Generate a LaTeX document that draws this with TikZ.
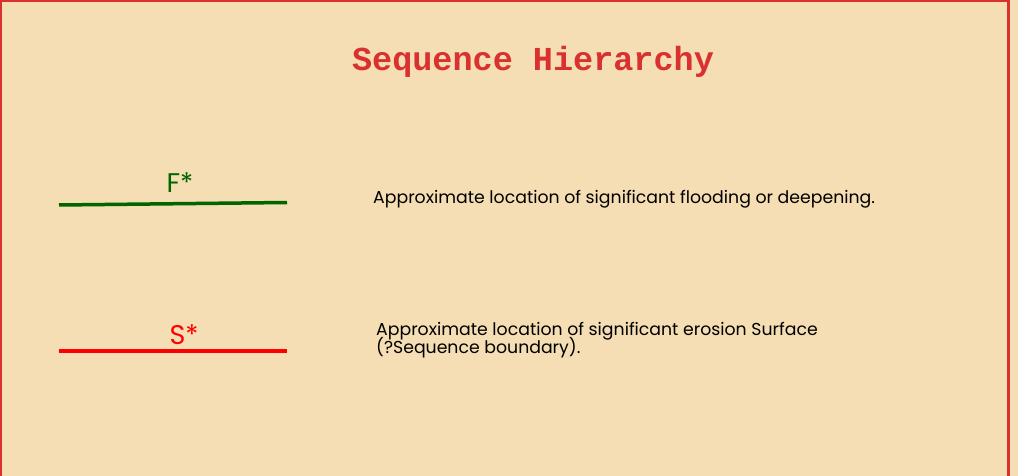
\documentclass[tikz,border=0pt]{standalone}
\usepackage{fontspec}
\usepackage{xcolor}
\newfontfamily\titlefont{Liberation Mono}
\newfontfamily\descfont{Poppins}
\definecolor{paper}{HTML}{F5DEB3}
\definecolor{frame}{HTML}{D93030}
\definecolor{floodgreen}{HTML}{006400}
\definecolor{erosred}{HTML}{FF0000}

\begin{document}
\begin{tikzpicture}[x=1pt, y=-1pt,
    desc/.style = {anchor=base west, inner sep=0pt, font=\descfont\fontsize{17.3}{15}\selectfont, align=left},
    tag/.style = {anchor=base, inner sep=0pt, font=\descfont\fontsize{27}{27}\selectfont},
    surface/.style = {line width=3.5pt}]
    \fill[paper] (0,0) rectangle (1018,476);
    \useasboundingbox (0,0) rectangle (1018,476);
    \draw[frame, line width=2.5pt] (1,476) -- (1,0.75) -- (1008.5,0.75) -- (1008.5,476);

    \node[inner sep=0pt, anchor=base, text=frame, font=\titlefont\bfseries\fontsize{33.5}{33.5}\selectfont] (title) at (533,71) {Sequence Hierarchy};

    % flooding surface
    \coordinate (f1) at (59,205);
    \coordinate (f2) at (287,202.5);
    \draw[surface, floodgreen] (f1) -- (f2);
    \node[tag, text=floodgreen] (ftag) at (180,193) {F*};
    \node[desc] (fdesc) at (373,204) {Approximate location of significant flooding or deepening.};

    % erosion surface
    \coordinate (s1) at (59,351);
    \coordinate (s2) at (287,351);
    \draw[surface, erosred] (s1) -- (s2);
    \node[tag, text=erosred] (stag) at (184,344) {S*};
    \node[desc] (sdesc) at (376,353) {Approximate location of significant erosion Surface\\[-4.5pt](?Sequence boundary).};
\end{tikzpicture}
\end{document}
